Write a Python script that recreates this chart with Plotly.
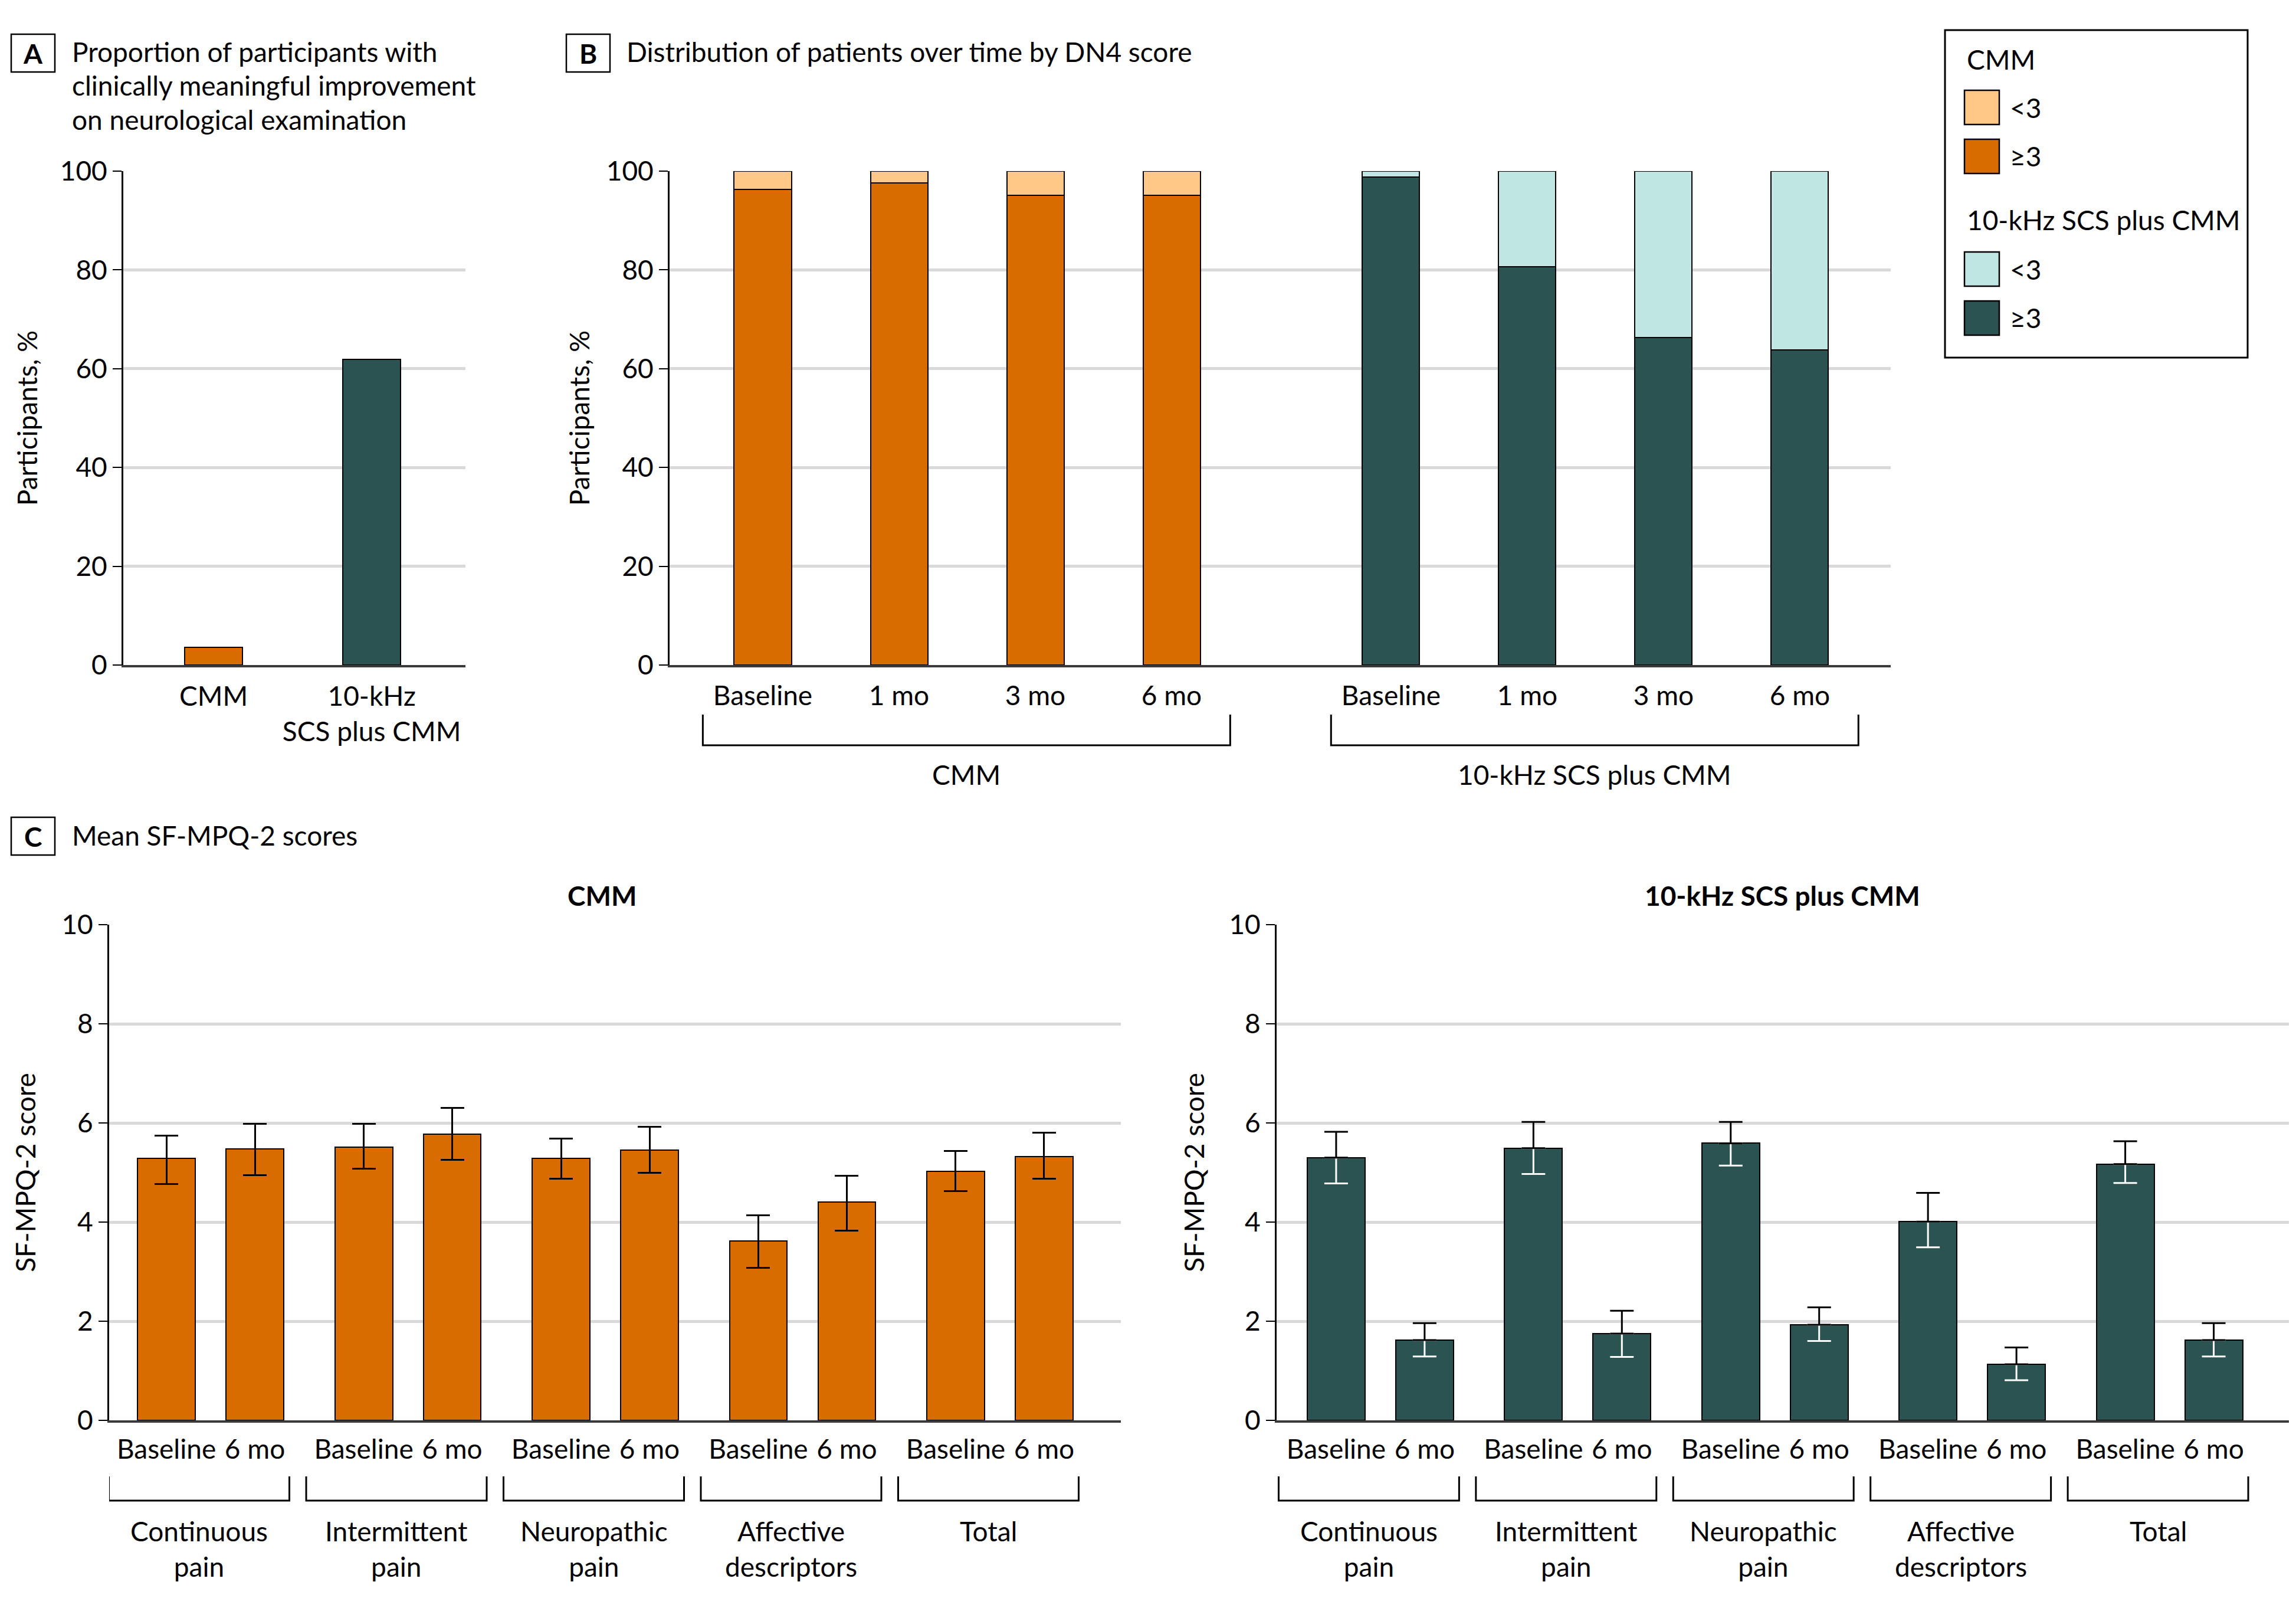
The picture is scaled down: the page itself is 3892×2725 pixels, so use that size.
import plotly.graph_objects as go

W, H = 3892, 2725

# ---------------- data ----------------
# Panel A
a_groups = ["CMM", "10-kHz<br>SCS plus CMM"]
a_values = [3.6, 61.9]

# Panel B (DN4 score distribution, %)
b_times = ["Baseline", "1 mo", "3 mo", "6 mo"]
b_cmm_ge3 = [96.3, 97.6, 95.1, 95.1]
b_cmm_lt3 = [3.7, 2.4, 4.9, 4.9]
b_scs_ge3 = [98.8, 80.7, 66.3, 63.8]
b_scs_lt3 = [1.2, 19.3, 33.7, 36.2]
b_groups = ["CMM", "10-kHz SCS plus CMM"]

# Panel C (mean SF-MPQ-2 scores with CI)
c_domains = ["Continuous<br>pain", "Intermittent<br>pain", "Neuropathic<br>pain",
             "Affective<br>descriptors", "Total"]
c_times = ["Baseline", "6 mo"]
c_cmm_base = [5.29, 5.51, 5.28, 3.62, 5.02]
c_cmm_base_lo = [4.77, 5.08, 4.87, 3.08, 4.63]
c_cmm_base_hi = [5.74, 5.98, 5.68, 4.14, 5.43]
c_cmm_6 = [5.48, 5.77, 5.45, 4.41, 5.32]
c_cmm_6_lo = [4.95, 5.26, 5.00, 3.83, 4.88]
c_cmm_6_hi = [5.98, 6.30, 5.92, 4.94, 5.80]
c_scs_base = [5.30, 5.49, 5.59, 4.01, 5.17]
c_scs_base_lo = [4.78, 4.97, 5.14, 3.49, 4.79]
c_scs_base_hi = [5.82, 6.02, 6.02, 4.59, 5.63]
c_scs_6 = [1.62, 1.75, 1.93, 1.13, 1.62]
c_scs_6_lo = [1.29, 1.28, 1.60, 0.81, 1.29]
c_scs_6_hi = [1.96, 2.21, 2.28, 1.47, 1.96]

# ---------------- style ----------------
ORANGE = "#D86C00"
LIGHT_ORANGE = "#FFC886"
TEAL = "#2A5352"
LIGHT_TEAL = "#C0E6E4"
GRID = "#D9D9D9"
FONT = "Lato"
FS = 46


def fx(px):
    return px / W


def fy(py):
    return 1 - py / H


# ---------------- positions ----------------
a_pos = list(range(len(a_groups)))
b_cmm_pos = [i for i in range(len(b_times))]
b_scs_pos = [i + 4.61 for i in range(len(b_times))]
c_step = 2.23
c_base_pos = [g * c_step for g in range(len(c_domains))]
c_6_pos = [p + 1 for p in c_base_pos]


def interleave(a, b):
    out = []
    for u, v in zip(a, b):
        out += [u, v]
    return out


c_x = interleave(c_base_pos, c_6_pos)
c_ticktext = interleave([c_times[0]] * len(c_domains), [c_times[1]] * len(c_domains))

fig = go.Figure()

# Panel A
fig.add_trace(go.Bar(x=a_pos, y=a_values, width=0.366,
                     marker=dict(color=[ORANGE, TEAL], line=dict(color="black", width=2.5)),
                     xaxis="x", yaxis="y", showlegend=False))

# Panel B
for xs, ys, col in [(b_cmm_pos, b_cmm_ge3, ORANGE), (b_cmm_pos, b_cmm_lt3, LIGHT_ORANGE),
                    (b_scs_pos, b_scs_ge3, TEAL), (b_scs_pos, b_scs_lt3, LIGHT_TEAL)]:
    fig.add_trace(go.Bar(x=xs, y=ys, width=0.42,
                         marker=dict(color=col, line=dict(color="black", width=2.5)),
                         xaxis="x2", yaxis="y2", showlegend=False))

# Panel C left (CMM)
cl_y = interleave(c_cmm_base, c_cmm_6)
cl_lo = interleave(c_cmm_base_lo, c_cmm_6_lo)
cl_hi = interleave(c_cmm_base_hi, c_cmm_6_hi)
fig.add_trace(go.Bar(x=c_x, y=cl_y, width=0.653,
                     marker=dict(color=ORANGE, line=dict(color="black", width=2.5)),
                     error_y=dict(type="data", symmetric=False,
                                  array=[h - v for h, v in zip(cl_hi, cl_y)],
                                  arrayminus=[v - l for v, l in zip(cl_y, cl_lo)],
                                  color="black", thickness=3, width=20),
                     xaxis="x3", yaxis="y3", showlegend=False))

# Panel C right (10-kHz SCS plus CMM)
cr_y = interleave(c_scs_base, c_scs_6)
cr_lo = interleave(c_scs_base_lo, c_scs_6_lo)
cr_hi = interleave(c_scs_base_hi, c_scs_6_hi)
fig.add_trace(go.Bar(x=c_x, y=cr_y, width=0.653,
                     marker=dict(color=TEAL, line=dict(color="black", width=2.5)),
                     xaxis="x4", yaxis="y4", showlegend=False))
fig.add_trace(go.Scatter(x=c_x, y=cr_y, mode="markers", marker=dict(size=1, opacity=0),
                         error_y=dict(type="data", symmetric=False,
                                      array=[0] * len(cr_y),
                                      arrayminus=[v - l for v, l in zip(cr_y, cr_lo)],
                                      color="white", thickness=3, width=20),
                         xaxis="x4", yaxis="y4", showlegend=False, hoverinfo="skip"))
fig.add_trace(go.Scatter(x=c_x, y=cr_y, mode="markers", marker=dict(size=1, opacity=0),
                         error_y=dict(type="data", symmetric=False,
                                      array=[h - v for h, v in zip(cr_hi, cr_y)],
                                      arrayminus=[0] * len(cr_y),
                                      color="black", thickness=3, width=20),
                         xaxis="x4", yaxis="y4", showlegend=False, hoverinfo="skip"))

# ---------------- axes ----------------
tickfont = dict(family=FONT, size=FS, color="black")


def yaxis_common(title, rng, dtick, standoff):
    return dict(range=rng, tickmode="linear", tick0=0, dtick=dtick,
                showgrid=True, gridcolor=GRID, gridwidth=5, zeroline=False,
                showline=True, linecolor="black", linewidth=3,
                ticks="outside", ticklen=15, tickwidth=2, tickcolor="black",
                tickfont=tickfont,
                title=dict(text=title, font=dict(family=FONT, size=FS, color="black"),
                           standoff=standoff),
                automargin=False, fixedrange=True)


def xaxis_common(rng, tickvals, ticktext, standoff):
    return dict(range=rng, tickmode="array", tickvals=tickvals, ticktext=ticktext,
                showgrid=False, zeroline=False, showline=True, linecolor="#3a3a3a",
                linewidth=4, ticks="", tickfont=tickfont, ticklabelstandoff=standoff,
                automargin=False, fixedrange=True)


yA = fy(1127), fy(290)
yC = fy(2407), fy(1567)

fig.update_layout(
    width=W, height=H, margin=dict(l=0, r=0, t=0, b=0),
    paper_bgcolor="white", plot_bgcolor="white",
    barmode="stack", bargap=0,
    font=dict(family=FONT, size=FS, color="black"),
    xaxis=dict(domain=[fx(209), fx(789)], anchor="y",
               **xaxis_common([-0.571, 1.593], a_pos, a_groups, 10)),
    yaxis=dict(domain=[yA[0], yA[1]], anchor="x",
               **yaxis_common("Participants, %", [0, 100], 20, 24)),
    xaxis2=dict(domain=[fx(1135), fx(3205)], anchor="y2",
                **xaxis_common([-0.684, 8.277], b_cmm_pos + b_scs_pos, b_times * 2, 9)),
    yaxis2=dict(domain=[yA[0], yA[1]], anchor="x2",
                **yaxis_common("Participants, %", [0, 100], 20, 14)),
    xaxis3=dict(domain=[fx(185), fx(1900)], anchor="y3",
                **xaxis_common([-0.647, 10.787], c_x, c_ticktext, 6)),
    yaxis3=dict(domain=[yC[0], yC[1]], anchor="x3",
                **yaxis_common("SF-MPQ-2 score", [0, 10], 2, 30)),
    xaxis4=dict(domain=[fx(2164), fx(3880)], anchor="y4",
                **xaxis_common([-0.673, 10.77], c_x, c_ticktext, 6)),
    yaxis4=dict(domain=[yC[0], yC[1]], anchor="x4",
                **yaxis_common("SF-MPQ-2 score", [0, 10], 2, 28)),
)

shapes = []
annotations = []


def panel_label(letter, x0, y0, x1, y1):
    shapes.append(dict(type="rect", xref="paper", yref="paper",
                       x0=fx(x0), x1=fx(x1), y0=fy(y1), y1=fy(y0),
                       line=dict(color="black", width=2.5), fillcolor="white"))
    annotations.append(dict(text="<b>%s</b>" % letter, xref="paper", yref="paper",
                            x=fx((x0 + x1) / 2), y=fy((y0 + y1) / 2),
                            xanchor="center", yanchor="middle", showarrow=False,
                            font=dict(family=FONT, size=FS, color="black")))


def text_left(txt, x, ycenter, bold=False):
    annotations.append(dict(text=("<b>%s</b>" % txt) if bold else txt,
                            xref="paper", yref="paper", x=fx(x), y=fy(ycenter),
                            xanchor="left", yanchor="middle", align="left",
                            showarrow=False,
                            font=dict(family=FONT, size=FS, color="black")))


# panel headers
panel_label("A", 19, 58, 93, 122)
for i, line in enumerate(["Proportion of participants with",
                          "clinically meaningful improvement",
                          "on neurological examination"]):
    text_left(line, 120, 88 + 57 * i)
panel_label("B", 960, 58, 1034, 122)
text_left("Distribution of patients over time by DN4 score", 1060, 88)
panel_label("C", 19, 1385, 93, 1449)
text_left("Mean SF-MPQ-2 scores", 120, 1415)

# panel C subplot titles
annotations.append(dict(text="<b>CMM</b>", xref="paper", yref="paper",
                        x=fx(1020), y=fy(1517), xanchor="center", yanchor="middle",
                        showarrow=False, font=dict(family=FONT, size=FS, color="black")))
annotations.append(dict(text="<b>10-kHz SCS plus CMM</b>", xref="paper", yref="paper",
                        x=fx(3021), y=fy(1517), xanchor="center", yanchor="middle",
                        showarrow=False, font=dict(family=FONT, size=FS, color="black")))


def bracket(xref, xa, xb, ytop, ybot, label, ylabel_top):
    shapes.append(dict(type="path", xref=xref, yref="paper",
                       path="M %f,%f L %f,%f L %f,%f L %f,%f" % (xa, fy(ytop), xa, fy(ybot),
                                                                 xb, fy(ybot), xb, fy(ytop)),
                       line=dict(color="black", width=3)))
    annotations.append(dict(text=label, xref=xref, yref="paper", x=(xa + xb) / 2,
                            y=fy(ylabel_top), xanchor="center", yanchor="top",
                            showarrow=False, align="center",
                            font=dict(family=FONT, size=FS, color="black")))


# panel B brackets
bracket("x2", b_cmm_pos[0] - 0.44, b_cmm_pos[-1] + 0.43, 1211, 1263, b_groups[0], 1283)
bracket("x2", b_scs_pos[0] - 0.44, b_scs_pos[-1] + 0.43, 1211, 1263, b_groups[1], 1283)

# panel C brackets
for xr in ["x3", "x4"]:
    for g, lab in enumerate(c_domains):
        bracket(xr, c_base_pos[g] - 0.65, c_6_pos[g] + 0.39, 2502, 2543, lab, 2565)

# legend (manual)
shapes.append(dict(type="rect", xref="paper", yref="paper", x0=fx(3297), x1=fx(3810),
                   y0=fy(606), y1=fy(51), line=dict(color="black", width=3),
                   fillcolor="rgba(0,0,0,0)"))
legend_rows = [("title", "CMM", 101, None), ("item", "&lt;3", 182, LIGHT_ORANGE),
               ("item", "≥3", 265, ORANGE), ("title", "10-kHz SCS plus CMM", 372, None),
               ("item", "&lt;3", 456, LIGHT_TEAL), ("item", "≥3", 539, TEAL)]
for kind, txt, yc, col in legend_rows:
    if kind == "title":
        text_left(txt, 3332, yc)
    else:
        shapes.append(dict(type="rect", xref="paper", yref="paper",
                           x0=fx(3330), x1=fx(3389), y0=fy(yc + 29), y1=fy(yc - 29),
                           line=dict(color="black", width=2.5), fillcolor=col))
        text_left(txt, 3405, yc)

fig.update_layout(shapes=shapes, annotations=annotations)

fig.write_html("out.html", config={"displayModeBar": False},
               post_script="document.body.style.margin='0';")
